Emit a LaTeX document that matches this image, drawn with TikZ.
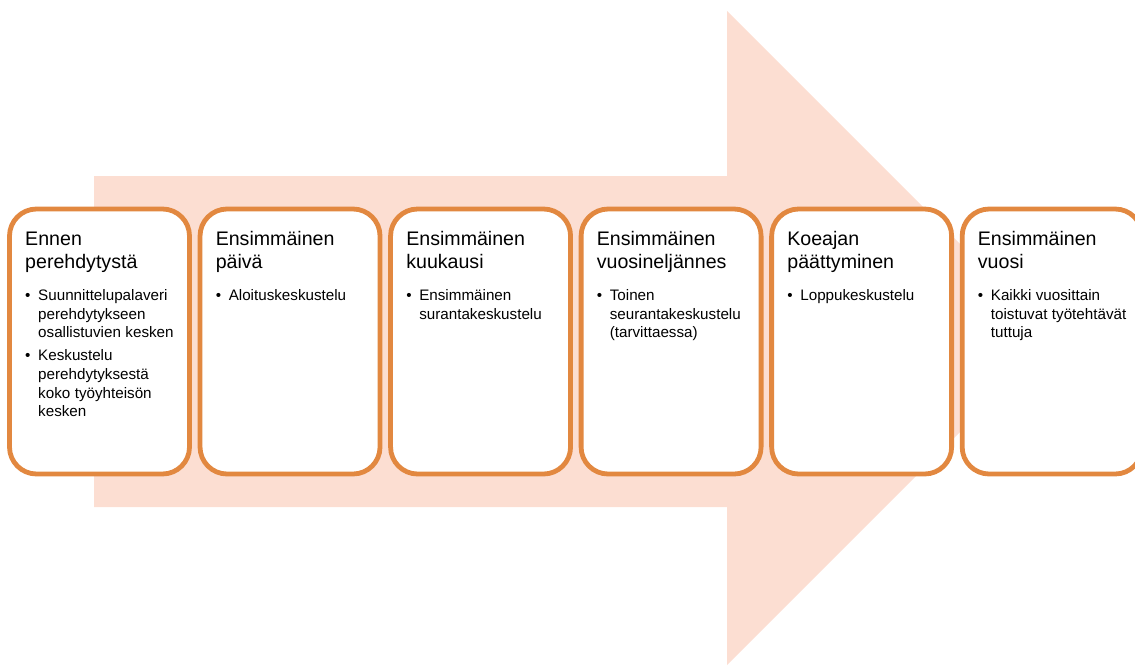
\documentclass[tikz,border=0pt]{standalone}
\usepackage{fontspec}
\setmainfont{Liberation Sans}
\usepackage{xcolor}
\usepackage{tikz}
\usetikzlibrary{positioning}

\definecolor{reuna}{RGB}{226,136,64}
\definecolor{nuoli}{RGB}{252,222,210}

% otsikko ja luettelokohta laatikon sisalla
\newcommand{\otsikko}[1]{{\fontsize{14.7pt}{17.5pt}\selectfont\rule{0pt}{11pt}#1\par}\vspace{10pt}}
\newcommand{\kohta}[1]{{\let\\\newline\fontsize{11.4pt}{14pt}\selectfont
  \hangindent=9.75pt\hangafter=1\noindent\makebox[9.75pt][l]{\textbullet}#1\par}\vspace{3.2pt}}

\begin{document}
\begin{tikzpicture}[x=0.75pt,y=-0.75pt,line join=round,
    vaihe/.style={draw=reuna,fill=white,line width=3.6pt,rounded corners=20.25pt,
      minimum width=135pt,minimum height=198.75pt,inner sep=0pt,outer sep=0pt},
    teksti/.style={anchor=north west,inner sep=0pt,text width=124pt,align=left}]
  \useasboundingbox (0,0) rectangle (1135,665);
  \clip (0,0) rectangle (1135,665);
  % taustanuoli
  \fill[nuoli] (94,176) -- (727,176) -- (727,11) -- (1054,338)
    -- (727,665) -- (727,507) -- (94,507) -- cycle;
  % vaiheet
  \node[vaihe] (v1) at (99.5,341.5) {};
  \node[vaihe,right=7.9pt of v1] (v2) {};
  \node[vaihe,right=7.9pt of v2] (v3) {};
  \node[vaihe,right=7.9pt of v3] (v4) {};
  \node[vaihe,right=7.9pt of v4] (v5) {};
  \node[vaihe,right=7.9pt of v5] (v6) {};
  \node[teksti,below right=16pt and 11.6pt of v1.north west] (t1)
    {\otsikko{Ennen\\perehdytystä}%
     \kohta{Suunnittelupalaveri\\perehdytykseen\\osallistuvien kesken}%
     \kohta{Keskustelu\\perehdytyksestä\\koko työyhteisön\\kesken}};
  \node[teksti,below right=16pt and 11.6pt of v2.north west] (t2)
    {\otsikko{Ensimmäinen\\päivä}\kohta{Aloituskeskustelu}};
  \node[teksti,below right=16pt and 11.6pt of v3.north west] (t3)
    {\otsikko{Ensimmäinen\\kuukausi}\kohta{Ensimmäinen\\surantakeskustelu}};
  \node[teksti,below right=16pt and 11.6pt of v4.north west] (t4)
    {\otsikko{Ensimmäinen\\vuosineljännes}\kohta{Toinen\\seurantakeskustelu\\(tarvittaessa)}};
  \node[teksti,below right=16pt and 11.6pt of v5.north west] (t5)
    {\otsikko{Koeajan\\päättyminen}\kohta{Loppukeskustelu}};
  \node[teksti,below right=16pt and 11.6pt of v6.north west] (t6)
    {\otsikko{Ensimmäinen\\vuosi}\kohta{Kaikki vuosittain\\toistuvat työtehtävät\\tuttuja}};
\end{tikzpicture}
\end{document}
